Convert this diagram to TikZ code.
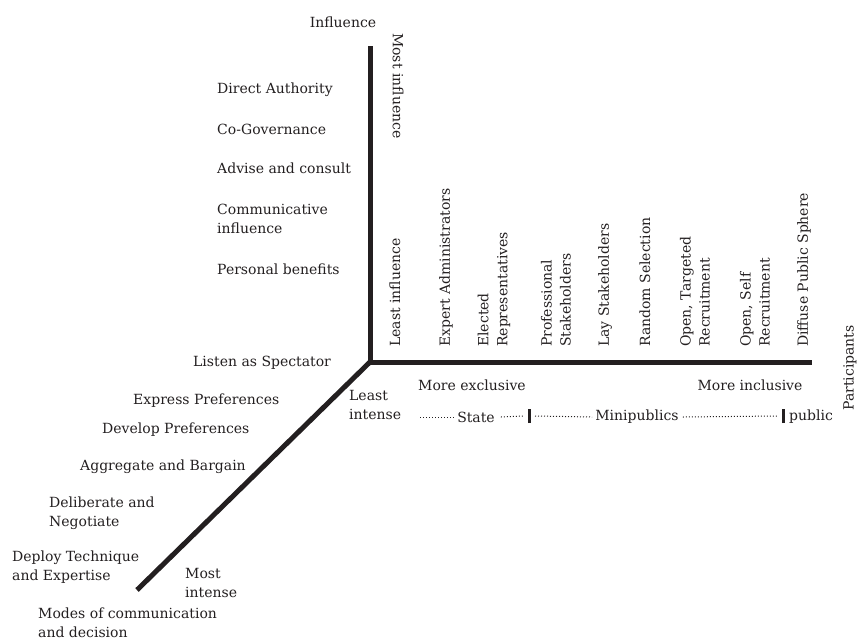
\documentclass[tikz,border=0pt]{standalone}
\usepackage{fontspec}
\setmainfont{DejaVu Serif}
\definecolor{ink}{HTML}{231F20}
\begin{document}
\begin{tikzpicture}[x=1pt,y=-1pt,
  lbl/.style={font=\fontsize{14}{19}\selectfont, text=ink, inner sep=0pt, align=left, anchor=west},
  rlbl/.style={lbl, rotate=90},
  axisline/.style={line width=5pt, draw=ink},
  dots/.style={draw=ink, dash pattern=on 1pt off 2pt, line width=1pt},
  bar/.style={draw=ink, line width=3pt}]
\useasboundingbox (0,0) rectangle (860,641);
% axes
\coordinate (O) at (370,362);
\coordinate (T) at (370,46);
\coordinate (R) at (812,362);
\coordinate (D) at (137,590);
\draw[axisline] (T) -- (O) -- (R);
\draw[axisline] (O) -- (D);
% vertical axis labels
\node[lbl, anchor=center] (infl) at (343,22) {Influence};
\node[lbl, rotate=-90] (most) at (398,33) {Most influence};
\node[lbl] (da) at (217,90) {Direct Authority};
\node[lbl] (cg) at (217,129) {Co-Governance};
\node[lbl] (ac) at (217,168) {Advise and consult};
\node[lbl] (ci) at (217,218.5) {Communicative\\influence};
\node[lbl] (pb) at (217,269) {Personal benefits};
% participants
\node[rlbl] (li) at (395,347) {Least influence};
\node[rlbl] (ea) at (446,347) {Expert Administrators};
\node[rlbl] (er) at (494,347) {Elected\\Representatives};
\node[rlbl] (ps) at (556,347) {Professional\\Stakeholders};
\node[rlbl] (ls) at (605,347) {Lay Stakeholders};
\node[rlbl] (rs) at (645,347) {Random Selection};
\node[rlbl] (ot) at (695,347) {Open, Targeted\\Recruitment};
\node[rlbl] (os) at (755,347) {Open, Self\\Recruitment};
\node[rlbl] (dp) at (804,347) {Diffuse Public Sphere};
\node[lbl, rotate=90, anchor=center] (part) at (850,368) {Participants};
\node[lbl, anchor=center] (mex) at (472,385) {More exclusive};
\node[lbl, anchor=center] (min) at (750,385) {More inclusive};
% state / minipublics / public line
\node[lbl, anchor=center] (st) at (476,417) {State};
\node[lbl, anchor=center] (mp) at (637,417) {Minipublics};
\node[lbl, anchor=center] (pu) at (811,417) {public};
\coordinate (s0) at (420,417);
\coordinate (b1) at (529,416);
\coordinate (b2) at (783,416);
\draw[dots] (s0) -- ([xshift=-2pt]st.west);
\draw[dots] ([xshift=6pt]st.east) -- ([xshift=-6pt]b1);
\draw[dots] ([xshift=6pt]b1) -- ([xshift=-3pt]mp.west);
\draw[dots] ([xshift=4pt]mp.east) -- ([xshift=-5pt]b2);
\draw[bar] ([yshift=-7pt]b1) -- ([yshift=7pt]b1);
\draw[bar] ([yshift=-7pt]b2) -- ([yshift=7pt]b2);
% diagonal labels
\node[lbl] (lint) at (349,405) {Least\\intense};
\node[lbl] (lst) at (193,363) {Listen as Spectator};
\node[lbl] (ep) at (133,401) {Express Preferences};
\node[lbl] (dvp) at (102,430) {Develop Preferences};
\node[lbl] (ab) at (80,467) {Aggregate and Bargain};
\node[lbl] (dn) at (49,513) {Deliberate and\\Negotiate};
\node[lbl] (dt) at (12,567) {Deploy Technique\\and Expertise};
\node[lbl] (mint) at (185,583) {Most\\intense};
\node[lbl] (modes) at (38,623) {Modes of communication\\and decision};
\end{tikzpicture}
\end{document}
